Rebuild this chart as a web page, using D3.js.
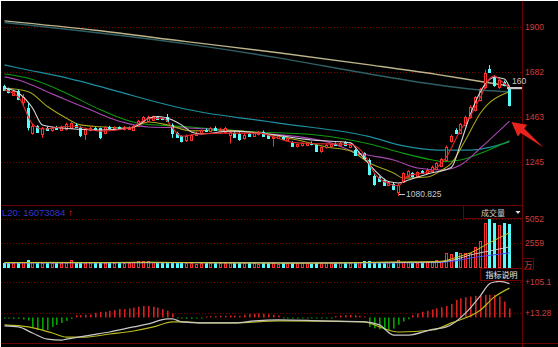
<!DOCTYPE html>
<html><head><meta charset="utf-8">
<script src="https://cdn.jsdelivr.net/npm/d3@7"></script>
<style>html,body{margin:0;padding:0;background:#000;overflow:hidden}svg{display:block}</style>
</head><body>
<svg id="c" width="558" height="347"></svg>
<script>
// ---------- DATA ----------
// candles: [open, high, low, close]
const candles = [
[1612,1620,1590,1595],[1600,1606,1578,1585],[1572,1596,1566,1588],[1590,1596,1545,1552],[1535,1575,1520,1562],
[1505,1530,1398,1415],[1388,1430,1378,1422],[1418,1424,1386,1392],[1380,1415,1362,1408],[1412,1418,1398,1402],
[1398,1418,1392,1410],[1414,1420,1402,1406],[1402,1422,1396,1416],[1404,1436,1398,1430],[1412,1438,1408,1432],
[1426,1432,1410,1414],[1412,1418,1366,1378],[1382,1412,1352,1405],[1400,1416,1394,1410],[1410,1414,1396,1400],
[1408,1412,1356,1364],[1388,1420,1380,1415],[1416,1420,1404,1408],[1404,1418,1398,1412],[1414,1418,1402,1406],
[1404,1420,1398,1414],[1406,1418,1400,1410],[1400,1425,1395,1420],[1418,1450,1414,1445],[1440,1468,1436,1462],
[1445,1470,1440,1465],[1450,1470,1446,1466],[1462,1468,1452,1456],[1458,1462,1448,1452],[1462,1478,1440,1445],
[1425,1432,1362,1386],[1386,1392,1364,1368],[1370,1374,1340,1345],[1350,1378,1342,1372],[1352,1380,1346,1375],
[1378,1392,1372,1386],[1384,1402,1378,1398],[1402,1408,1392,1396],[1396,1414,1390,1410],[1412,1418,1398,1402],
[1398,1412,1392,1406],[1392,1416,1388,1410],[1376,1395,1335,1390],[1388,1394,1362,1366],[1382,1390,1348,1356],
[1360,1384,1354,1378],[1380,1386,1368,1372],[1372,1390,1366,1386],[1380,1396,1374,1392],[1390,1398,1368,1372],
[1374,1380,1358,1362],[1360,1372,1320,1365],[1362,1376,1356,1370],[1368,1374,1352,1356],[1354,1366,1346,1360],
[1340,1346,1318,1322],[1322,1336,1316,1332],[1326,1340,1320,1336],[1328,1342,1322,1338],[1338,1344,1326,1330],
[1326,1330,1296,1300],[1296,1322,1290,1318],[1316,1332,1310,1328],[1322,1336,1316,1332],[1334,1340,1326,1330],
[1328,1342,1322,1338],[1340,1346,1322,1326],[1320,1332,1312,1326],[1302,1308,1274,1280],[1284,1296,1278,1290],
[1288,1292,1262,1266],[1255,1262,1180,1187],[1178,1186,1130,1140],[1170,1176,1148,1152],[1158,1164,1130,1135],
[1134,1152,1128,1146],[1140,1148,1108,1112],[1100,1140,1080.825,1135],[1150,1195,1145,1190],[1175,1205,1170,1200],
[1190,1196,1170,1175],[1175,1200,1168,1195],[1200,1206,1188,1192],[1192,1215,1188,1208],[1200,1228,1194,1222],
[1212,1245,1206,1240],[1226,1265,1220,1260],[1255,1325,1250,1318],[1345,1378,1340,1372],[1402,1408,1384,1388],
[1386,1434,1380,1430],[1425,1470,1420,1465],[1464,1520,1455,1512],[1498,1565,1490,1560],[1546,1605,1540,1600],
[1610,1692,1600,1677],[1697,1715,1678,1682],[1653,1665,1610,1619],[1609,1650,1600,1643],[1633,1640,1612,1619],
[1604,1610,1515,1522]
];
// volume (万)
const volumes = [
560,520,480,540,600,820,610,560,520,500,
540,480,520,560,780,600,620,540,500,560,
520,480,540,500,470,520,560,600,750,720,
700,640,560,610,640,590,560,520,500,480,
460,500,520,480,500,540,520,560,600,540,
520,500,480,460,520,500,480,460,500,520,
540,500,520,480,460,500,540,520,480,500,
520,540,560,600,620,700,760,600,640,560,
520,540,780,600,640,560,520,580,700,760,
800,760,1500,1480,1620,1500,1520,1500,2150,2760,
4630,5052,4630,4400,4630,4500
];
// MACD histogram
const macdHist = [
-3,-3,-4,-4,-6,-9,-31,-37,-37,-37,-28,-22,-16,-10,-4,
7,7,8,9,14,17,17,20,22,25,25,27,29,32,34,34,32,29,25,20,12,
-2,-3,-4,-4,-3,-2,
3,4,4,5,5,6,6,5,
8,10,11,12,11,10,8,6,
-2,-2,-3,-2,-2,-3,-2,-2,-2,-1,-1,
4,6,7,8,7,5,3,
-28,-32,-35,-37,-37,-33,-22,-12,-5,
7,12,17,20,24,27,
30,34,40,52,57,60,62,64,65,67,67,67,62,47,27
];
// moving averages: [index, value]
const maRed = [[0,1595],[3,1560],[6,1430],[8,1405],[14,1420],[20,1395],[26,1410],[30,1455],[33,1458],[37,1370],[40,1380],[47,1385],[53,1385],[60,1340],[64,1335],[72,1330],[75,1280],[77,1190],[80,1140],[82,1130],[84,1180],[88,1195],[92,1270],[95,1400],[97,1470],[99,1560],[101,1650],[102,1663],[103,1645],[105,1604]];
const ma5 = [[0,1604],[3,1580],[6,1507],[8,1425],[12,1410],[20,1400],[26,1410],[28,1425],[30,1457],[32,1466],[35,1449],[37,1425],[39,1391],[41,1381],[47,1395],[53,1386],[64,1352],[72,1338],[74,1289],[77,1206],[80,1150],[82,1143],[84,1158],[88,1187],[93,1220],[95,1333],[97,1478],[100,1624],[102,1656],[104,1648],[105,1608]];
const ma10 = [[0,1604],[5,1586],[9,1514],[13,1457],[16,1425],[20,1416],[26,1410],[30,1439],[34,1425],[39,1396],[45,1400],[53,1386],[61,1352],[67,1318],[72,1298],[76,1240],[81,1192],[83,1167],[88,1172],[91,1205],[93,1240],[96,1352],[99,1483],[105,1586]];
const ma20 = [[0,1658],[3,1643],[9,1585],[13,1546],[18,1498],[22,1459],[26,1430],[30,1415],[38,1410],[53,1386],[67,1344],[74,1287],[81,1255],[86,1216],[91,1206],[95,1230],[99,1313],[105,1444]];
const ma30 = [[0,1672],[5,1651],[13,1579],[20,1498],[28,1433],[38,1416],[52,1392],[65,1376],[76,1332],[83,1287],[89,1255],[91,1247],[95,1255],[99,1287],[105,1348]];
const ma60 = [[0,1716],[3,1701],[13,1653],[24,1585],[30,1546],[38,1501],[57,1434],[76,1368],[83,1323],[90,1303],[97,1303],[105,1344]];
const ma120 = [[0,1922],[38,1818],[57,1750],[76,1672],[90,1620],[100,1592],[105,1586]];
const ma250 = [[0,1930],[19,1884],[38,1829],[57,1775],[76,1716],[90,1670],[100,1632],[105,1614]];
const volMa1 = [[0,560],[10,580],[20,560],[30,600],[40,540],[50,520],[60,500],[70,520],[80,620],[88,640],[91,700],[94,1100],[97,1560],[101,2600],[105,3640]];
const volMa2 = [[0,540],[20,540],[40,560],[60,520],[80,560],[90,600],[94,900],[97,1350],[101,1750],[105,2180]];
const volMa3 = [[0,520],[30,540],[60,530],[80,520],[90,560],[94,750],[97,1040],[101,1300],[105,1560]];
const dif = [[0,-25],[3,-28],[6,-46],[9,-64],[12,-67],[13,-64],[18,-52],[22,-43],[27,-28],[30,-19],[34,-4],[35,-4],[37,-13],[41,-16],[48,-16],[52,-10],[57,-7],[66,-10],[75,-13],[78,-22],[81,-52],[84,-52],[89,-35],[92,-28],[96,13],[99,65],[101,100],[102,105],[103,107],[105,100]];
const dea = [[0,-22],[5,-28],[10,-46],[13,-58],[17,-58],[22,-49],[27,-40],[31,-28],[35,-13],[38,-13],[41,-16],[48,-16],[57,-10],[75,-13],[78,-28],[82,-43],[89,-37],[93,-16],[99,22],[102,61],[105,87]];
const priceTicks = [1900,1682,1463,1245];
const volTicks = [5052,2559];
const macdTicks = [105.1,13.28];
const lowLabel = "1080.825";
const vol20Label = "L20: 16073084";
const lastLabel = "160";

// ---------- SCALES ----------
const N = candles.length;
const x = d3.scaleBand().domain(d3.range(N)).range([1.6, 511.5]);
const cx = i => Math.floor(x(i) + x.bandwidth()/2);
const yP = d3.scaleLinear().domain([1245,1900]).range([162,27]);
const yV = d3.scaleLinear().domain([0,5052]).range([268,219]);
const yM = d3.scaleLinear().domain([13.28,105.1]).range([313,282]);

const RED = '#ff3030', CYAN = '#54fcfc', AXR = '#d23c3c', DARK = '#6a0000';
const FONT = '"Liberation Sans", Arial, sans-serif';

const svg = d3.select('#c');
svg.append('rect').attr('width',558).attr('height',347).attr('fill','#000');
const defs = svg.append('defs');
defs.append('clipPath').attr('id','cm').append('rect').attr('x',1).attr('y',2).attr('width',521).attr('height',203);
defs.append('clipPath').attr('id','cv').append('rect').attr('x',1).attr('y',206).attr('width',521).attr('height',63);
defs.append('clipPath').attr('id','cd').append('rect').attr('x',1).attr('y',270).attr('width',521).attr('height',73);

// grid lines
function grid(ticks, scale){
  svg.append('g').selectAll('line').data(ticks).join('line')
    .attr('x1',1).attr('x2',522).attr('y1',d=>Math.round(scale(d))+0.5).attr('y2',d=>Math.round(scale(d))+0.5)
    .attr('stroke','#7a0000').attr('stroke-dasharray','1,2');
}
grid(priceTicks,yP); grid(volTicks,yV); grid(macdTicks,yM);

// frame lines
svg.append('line').attr('x1',0).attr('x2',522).attr('y1',205.5).attr('y2',205.5).attr('stroke',DARK);
svg.append('line').attr('x1',0).attr('x2',558).attr('y1',343.5).attr('y2',343.5).attr('stroke',DARK);
svg.append('line').attr('x1',522.5).attr('x2',522.5).attr('y1',0).attr('y2',347).attr('stroke',DARK);
svg.append('line').attr('x1',0).attr('x2',558).attr('y1',0.5).attr('y2',0.5).attr('stroke','#fff');
svg.append('line').attr('x1',0.5).attr('x2',0.5).attr('y1',0).attr('y2',347).attr('stroke','#fff');

// ---------- MAIN PANEL ----------
const gm = svg.append('g').attr('clip-path','url(#cm)');
const lineP = d3.line().x(d=>cx(d[0])+0.5).y(d=>yP(d[1])).curve(d3.curveMonotoneX);
[[ma250,'#bdb48a',1.4],[ma120,'#2f5f63',1.4],[ma60,'#1d8fa0',1.2],[ma30,'#0f9a0f',1.1],[ma20,'#a848b0',1.1],[ma10,'#a5a51a',1.1]]
  .forEach(([d,c,w])=>gm.append('path').attr('d',lineP(d)).attr('fill','none').attr('stroke',c).attr('stroke-width',w));

const cg = gm.append('g');
candles.forEach((d,i)=>{
  const [o,h,l,c] = d, up = c>=o, k = cx(i), col = up?RED:CYAN;
  cg.append('line').attr('x1',k+0.5).attr('x2',k+0.5).attr('y1',yP(h)).attr('y2',yP(l)).attr('stroke',col);
  const t = Math.round(yP(Math.max(o,c))), b = Math.max(Math.round(yP(Math.min(o,c))), t+1);
  if(up){
    cg.append('rect').attr('x',k-0.5).attr('y',t+0.5).attr('width',2).attr('height',b-t).attr('fill','#000').attr('stroke',col);
  } else {
    cg.append('rect').attr('x',k-1).attr('y',t).attr('width',3).attr('height',b-t+1).attr('fill',col);
  }
});
[[ma5,'#d8d8d8',1.1],[maRed,'#e02828',1.1]]
  .forEach(([d,c,w])=>gm.append('path').attr('d',lineP(d)).attr('fill','none').attr('stroke',c).attr('stroke-width',w));

// low label
const li = candles.findIndex(d=>d[2]===1080.825);
svg.append('line').attr('x1',cx(li)+1).attr('x2',cx(li)+7).attr('y1',Math.round(yP(1080.825))-1.5).attr('y2',Math.round(yP(1080.825))-1.5).attr('stroke','#c8c8c8');
svg.append('text').attr('x',cx(li)+8).attr('y',yP(1080.825)+1).attr('fill','#c8c8c8').attr('font-family',FONT).attr('font-size','8.5px').text(lowLabel);

// last price marker
svg.append('rect').attr('x',507).attr('y',87).attr('width',15).attr('height',2.2).attr('fill','#c8c8c8');
svg.append('text').attr('x',512).attr('y',84).attr('fill','#c8c8c8').attr('font-family',FONT).attr('font-size','8.5px').text(lastLabel);

// red arrow annotation
(function(){
  const tip=[511.5,122], tail=[543.5,147.5];
  const dx=tail[0]-tip[0], dy=tail[1]-tip[1], L=Math.hypot(dx,dy), ux=dx/L, uy=dy/L, px=-uy, py=ux;
  const hl=14, hw=7.5, sw=2.8;
  const b=[tip[0]+ux*hl, tip[1]+uy*hl];
  const pts=[tip,[b[0]+px*hw,b[1]+py*hw],[b[0]+px*sw,b[1]+py*sw],tail,[b[0]-px*sw,b[1]-py*sw],[b[0]-px*hw,b[1]-py*hw]];
  svg.append('path').attr('d',d3.line()(pts)+'Z').attr('fill','#e8231e');
})();

// ---------- VOLUME PANEL ----------
const gv = svg.append('g').attr('clip-path','url(#cv)');
volumes.forEach((v,i)=>{
  const up = candles[i][3]>=candles[i][0], k=cx(i), t=Math.round(yV(v));
  if(up) gv.append('rect').attr('x',k-0.5).attr('y',t+0.5).attr('width',2).attr('height',268-t-1).attr('fill','#000').attr('stroke',RED);
  else gv.append('rect').attr('x',k-1).attr('y',t).attr('width',3).attr('height',268-t).attr('fill',CYAN);
});
const lineV = d3.line().x(d=>cx(d[0])+0.5).y(d=>yV(d[1])).curve(d3.curveMonotoneX);
[[volMa3,'#4f4fff'],[volMa2,'#c8c8c8'],[volMa1,'#c8c820']].forEach(([d,c])=>gv.append('path').attr('d',lineV(d)).attr('fill','none').attr('stroke',c).attr('stroke-width',1));
const vt = svg.append('text').attr('x',2).attr('y',215.5).attr('font-family',FONT).attr('font-size','9.5px');
vt.append('tspan').attr('fill','#3535cc').text(vol20Label+' ');
vt.append('tspan').attr('fill','#ff2020').attr('font-weight','bold').text('↑');

// ---------- MACD PANEL ----------
const gd = svg.append('g').attr('clip-path','url(#cd)');
macdHist.forEach((v,i)=>{
  const y0=yM(0), y1=yM(v);
  gd.append('rect').attr('x',cx(i)).attr('width',1.6).attr('y',Math.min(y0,y1)).attr('height',Math.max(Math.abs(y1-y0),1))
    .attr('fill', v>=0?'#d42020':'#00a400');
});
const lineM = d3.line().x(d=>cx(d[0])+0.5).y(d=>yM(d[1])).curve(d3.curveMonotoneX);
[[dea,'#b8b820'],[dif,'#c8c8c8']].forEach(([d,c])=>gd.append('path').attr('d',lineM(d)).attr('fill','none').attr('stroke',c).attr('stroke-width',1.2));

// ---------- AXES ----------
function axis(scale, ticks, fmt){
  const g = svg.append('g').attr('transform','translate(522,0)')
    .call(d3.axisRight(scale).tickValues(ticks).tickSize(0).tickPadding(3).tickFormat(fmt));
  g.select('.domain').remove();
  g.selectAll('text').attr('fill',AXR).attr('font-family',FONT).attr('font-size','8.5px');
  return g;
}
axis(yP, priceTicks, d3.format('d'));
axis(yV, volTicks, d3.format('d'));
axis(yM, macdTicks, d=>'+'+d);

// boxes
svg.append('rect').attr('x',463.5).attr('y',205.5).attr('width',59).attr('height',13).attr('fill','#000').attr('stroke',DARK);
svg.append('text').attr('x',493).attr('y',215.5).attr('text-anchor','middle').attr('fill','#d0d0d0').attr('font-family','"Noto Sans CJK SC",sans-serif').attr('font-size','8px').text('成交量');
svg.append('path').attr('d','M515.5,211 L520.5,211 L518,214 Z').attr('fill','#e0e0e0');
svg.append('rect').attr('x',480.5).attr('y',268.5).attr('width',42).attr('height',12).attr('fill','#000').attr('stroke',DARK);
svg.append('text').attr('x',501.5).attr('y',278).attr('text-anchor','middle').attr('fill','#e8e8e8').attr('font-family','"Noto Sans CJK SC",sans-serif').attr('font-size','8px').text('指标说明');
svg.append('rect').attr('x',522.5).attr('y',258.5).attr('width',11).attr('height',11).attr('fill','none').attr('stroke',DARK);
svg.append('text').attr('x',524).attr('y',267.5).attr('fill',AXR).attr('font-family','"Noto Sans CJK SC",sans-serif').attr('font-size','8.5px').text('万');
</script>
</body></html>
